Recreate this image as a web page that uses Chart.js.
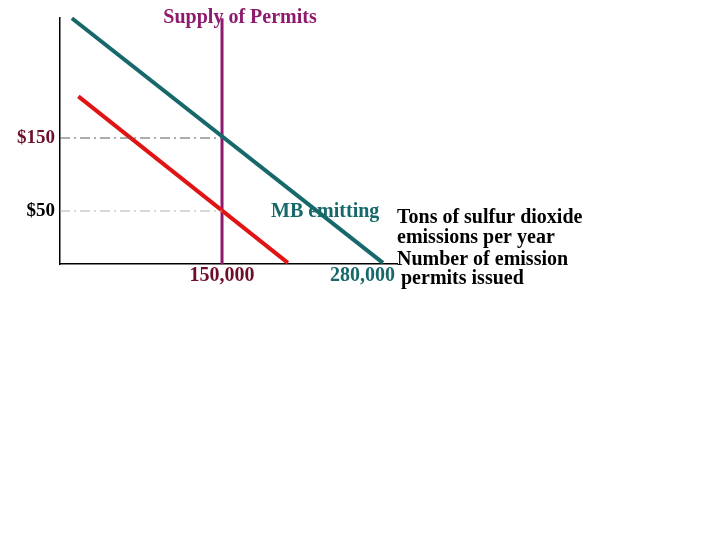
<!DOCTYPE html>
<html>
<head>
<meta charset="utf-8">
<script src="https://cdn.jsdelivr.net/npm/chart.js@4.4.0/dist/chart.umd.min.js"></script>
<style>
  html, body { margin: 0; padding: 0; background: #fff; }
  #wrap { width: 720px; height: 540px; }
</style>
</head>
<body>
<div id="wrap"><canvas id="permitChart" width="720" height="540"></canvas></div>
<script>
// quantities in thousands of permits, prices in $
const priceTicks = [50, 150];
const priceLabels = ["$50", "$150"];
const qtyTicks = [150, 280];
const qtyLabels = ["150,000", "280,000"];

const mbEmitting = [{ x: 11, y: 314 }, { x: 299, y: -21 }];
const mbLow = [{ x: 17, y: 207 }, { x: 211, y: -21 }];
const supplyPermits = [{ x: 150, y: -23 }, { x: 150, y: 314 }];
const price150 = [{ x: 0, y: 150 }, { x: 150, y: 150 }];
const price50 = [{ x: 0, y: 50 }, { x: 150, y: 50 }];

const serif = "'Liberation Serif', 'Times New Roman', serif";
const teal = "#17686a";
const purple = "#8e1a6e";
const maroon = "#6e0f2a";

const textPlugin = {
  id: "textPlugin",
  afterDraw(chart) {
    const ctx = chart.ctx;
    ctx.save();
    ctx.font = "bold 20px " + serif;
    ctx.textBaseline = "middle";

    ctx.fillStyle = purple;
    ctx.textAlign = "center";
    ctx.fillText("Supply of Permits", 240, 18);

    ctx.fillStyle = teal;
    ctx.textAlign = "left";
    ctx.fillText("MB emitting", 271, 212);

    ctx.fillStyle = "#000";
    ctx.fillText("Tons of sulfur dioxide", 397, 218);
    ctx.fillText("emissions per year", 397, 238);
    ctx.fillText("Number of emission", 397, 260);
    ctx.fillText("permits issued", 401, 279);
    ctx.restore();
  }
};

let permitChart = new Chart(document.getElementById("permitChart").getContext("2d"), {
  type: "line",
  data: {
    datasets: [
      { data: price150, borderColor: "#5a5a5a", borderWidth: 1, borderDash: [10, 4, 2, 4], pointRadius: 0 },
      { data: price50, borderColor: "#b0b0b0", borderWidth: 1, borderDash: [10, 4, 2, 4], pointRadius: 0 },
      { data: mbEmitting, borderColor: teal, borderWidth: 4, pointRadius: 0 },
      { data: mbLow, borderColor: "#e01414", borderWidth: 4, pointRadius: 0 },
      { data: supplyPermits, borderColor: purple, borderWidth: 3, pointRadius: 0 },
    ],
  },
  options: {
    responsive: false,
    animation: false,
    clip: false,
    layout: { padding: { top: 18, right: 323, left: 0, bottom: 0 } },
    plugins: {
      legend: { display: false },
      tooltip: { enabled: false },
    },
    scales: {
      x: {
        type: "linear",
        min: 0,
        max: 312,
        afterFit: (s) => { s.height = 276; },
        afterBuildTicks: (s) => { s.ticks = qtyTicks.map((v) => ({ value: v })); },
        grid: { display: false, drawTicks: false },
        border: { display: true, color: "#000", width: 1.5 },
        ticks: {
          padding: 0,
          autoSkip: false,
          maxRotation: 0,
          font: { family: serif, size: 20, weight: "bold" },
          color: (c) => (c.index === 0 ? maroon : teal),
          callback: (v, i) => qtyLabels[i],
        },
      },
      y: {
        type: "linear",
        min: -22.6,
        max: 314.4,
        afterFit: (s) => { s.width = 60; },
        afterBuildTicks: (s) => { s.ticks = priceTicks.map((v) => ({ value: v })); },
        grid: { display: false, drawTicks: false },
        border: { display: true, color: "#000", width: 1.5 },
        ticks: {
          padding: 5,
          autoSkip: false,
          font: { family: serif, size: 19, weight: "bold" },
          color: (c) => (c.index === 0 ? "#000" : maroon),
          callback: (v, i) => priceLabels[i],
        },
      },
    },
  },
  plugins: [textPlugin],
});
</script>
</body>
</html>
